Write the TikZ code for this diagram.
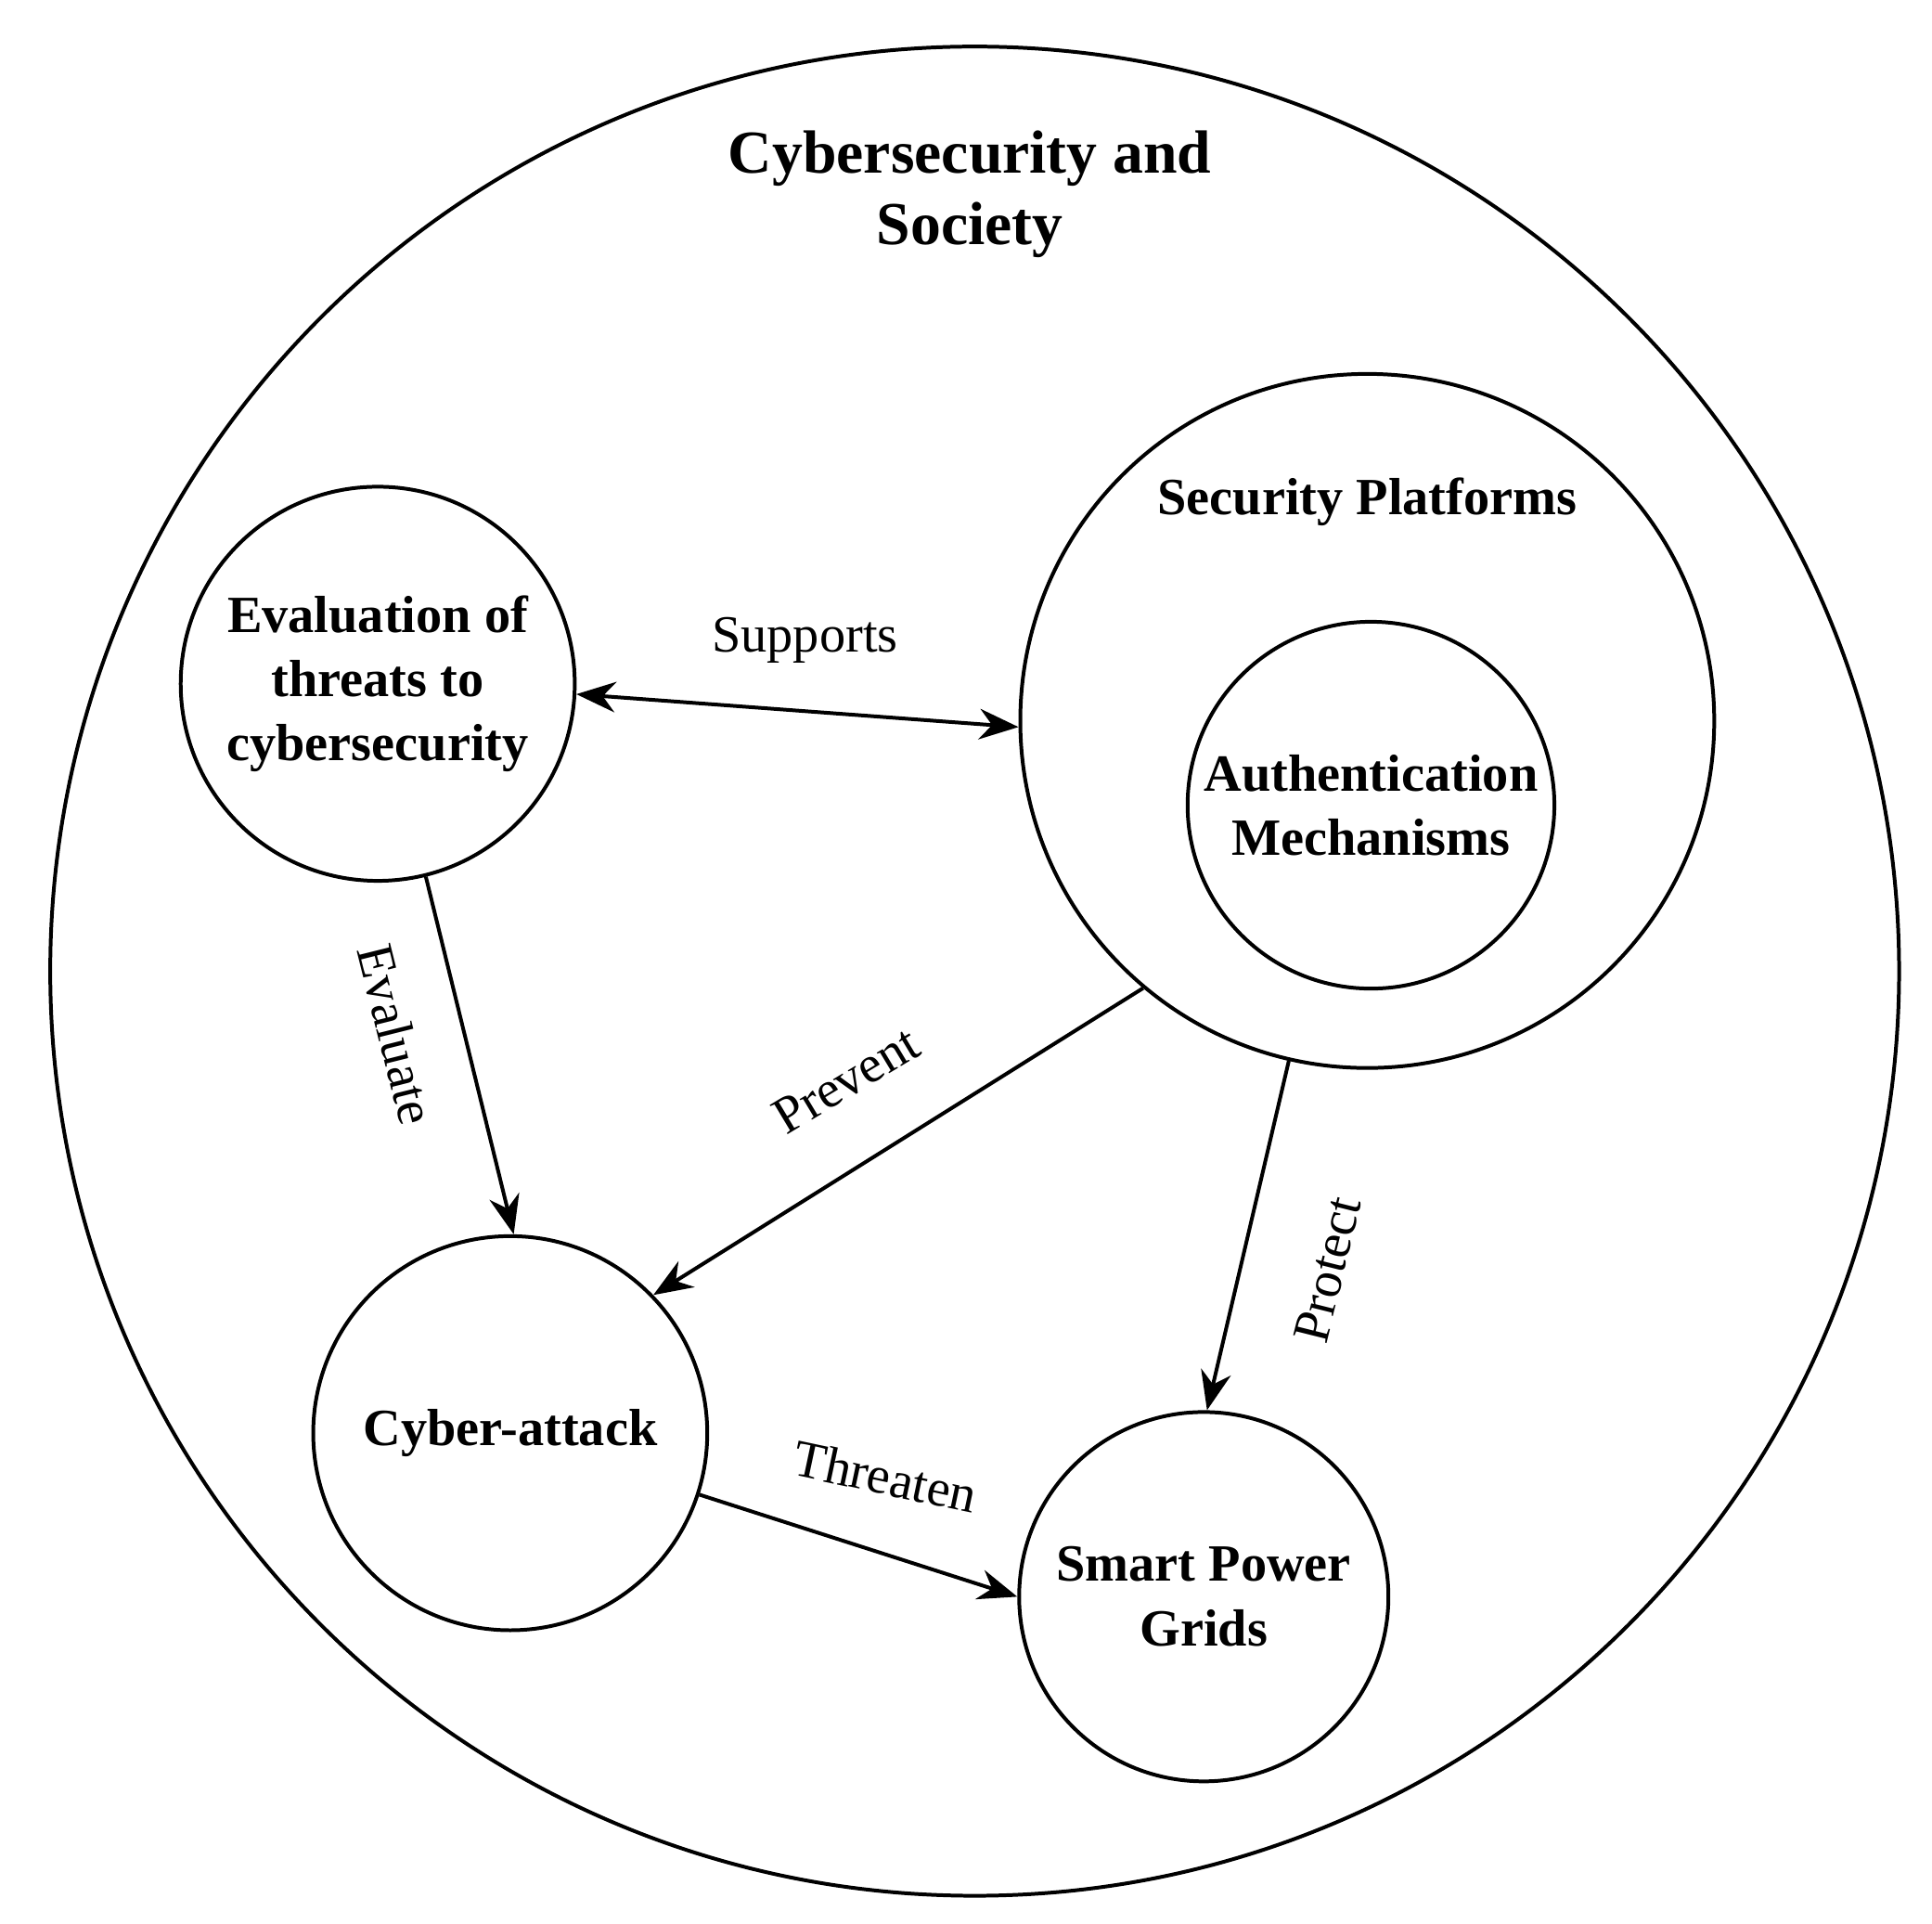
\documentclass[tikz,border=0pt]{standalone}
\usepackage{fontspec}
\setmainfont{Liberation Serif}
\usetikzlibrary{arrows.meta}
\begin{document}
\begin{tikzpicture}[x=0.01cm,y=-0.01cm,
  circ/.style={circle,draw,line width=0.85pt,inner sep=0pt},
  lbl/.style={font=\fontsize{12}{14.8}\selectfont\bfseries,align=center},
  elab/.style={font=\fontsize{12}{14.8}\selectfont},
  arr/.style={line width=0.85pt,-{Stealth[length=9pt,width=7pt]}}]
\useasboundingbox (0,0) rectangle (1560,1553);
\node[circ,minimum size=14.92cm] (outer) at (787,784) {};
\node[font=\fontsize{14}{16.5}\selectfont\bfseries,align=center] (title) at (783,157) {Cybersecurity and\\Society};
\node[circ,minimum size=3.18cm] (eval) at (305,552) {};
\node[lbl] at (eval) {Evaluation of\\threats to\\cybersecurity};
\node[circ,minimum size=5.6cm] (sec) at (1104,582) {};
\node[lbl] (sectext) at (1104,405) {Security Platforms};
\node[circ,minimum size=2.96cm] (auth) at (1107,650) {};
\node[lbl] at (auth) {Authentication\\Mechanisms};
\node[circ,minimum size=3.18cm] (cyber) at (412,1157) {};
\node[lbl] at (cyber) {Cyber-attack};
\node[circ,minimum size=2.98cm] (smart) at (972,1289) {};
\node[lbl] at (smart) {Smart Power\\Grids};
\draw[line width=0.85pt,{Stealth[length=9pt,width=7pt]}-{Stealth[length=9pt,width=7pt]}] (eval.-3) -- (sec.181.5);
\node[elab] at (650,517) {Supports};
\draw[arr] (eval.-76) -- (cyber.89);
\node[elab,rotate=-76] at (320,835) {Evaluate};
\draw[arr] (sec.230) -- (cyber.44);
\node[elab,rotate=31] at (683,872) {Prevent};
\draw[arr] (sec.257) -- (smart.89);
\node[elab,rotate=76] at (1072,1025) {Protect};
\draw[arr] (cyber.-18) -- (smart.180);
\node[elab,rotate=-12] at (715,1192) {Threaten};
\end{tikzpicture}
\end{document}
